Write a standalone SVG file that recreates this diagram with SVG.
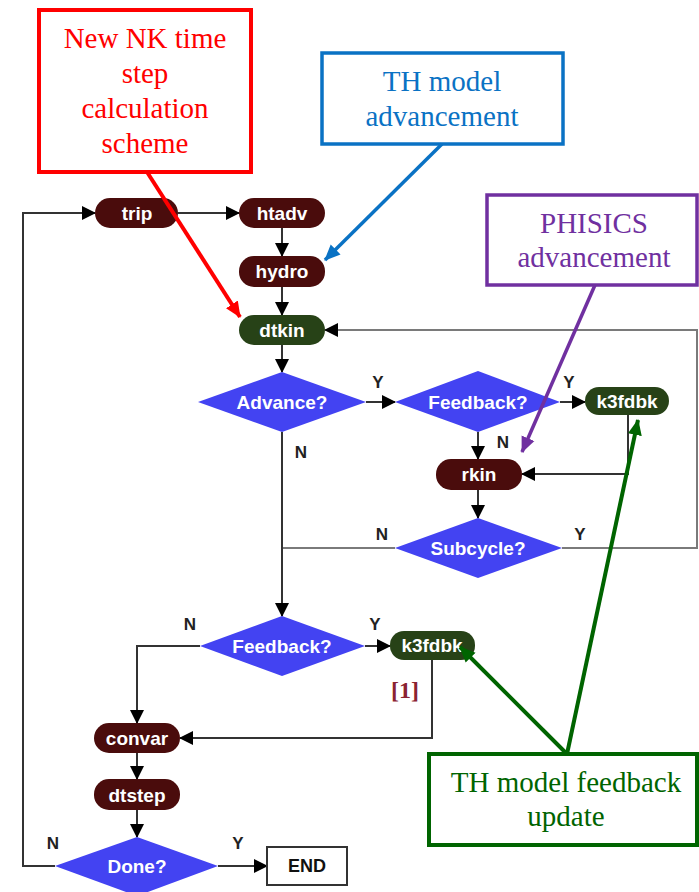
<svg xmlns="http://www.w3.org/2000/svg" width="699" height="892" viewBox="0 0 699 892">
<style>
.pb{fill:#4a0c0c;}
.pg{fill:#274217;}
.dm{fill:#4343f2;}
.nt{font-family:"Liberation Sans",Arial,sans-serif;font-weight:bold;font-size:19px;fill:#fff;text-anchor:middle;dominant-baseline:central;}
.dt{font-family:"Liberation Sans",Arial,sans-serif;font-weight:bold;font-size:19px;fill:#fff;text-anchor:middle;dominant-baseline:central;}
.yn{font-family:"Liberation Sans",Arial,sans-serif;font-weight:bold;font-size:17px;fill:#222;text-anchor:middle;}
.ln{fill:none;stroke:#333;stroke-width:2;}
.lg{fill:none;stroke:#7a7a7a;stroke-width:2;}
.ct{font-family:"Liberation Serif","Times New Roman",serif;font-size:29px;text-anchor:middle;}
</style>
<defs>
<marker id="ah" markerUnits="userSpaceOnUse" markerWidth="14" markerHeight="14" viewBox="0 0 14 14" refX="13" refY="7" orient="auto"><path d="M0,0 L14,7 L0,14 z" fill="#000"/></marker>
<marker id="ar" markerUnits="userSpaceOnUse" markerWidth="16" markerHeight="16" viewBox="0 0 16 16" refX="15" refY="8" orient="auto"><path d="M0,1 L16,8 L0,15 z" fill="#f00"/></marker>
<marker id="ab" markerUnits="userSpaceOnUse" markerWidth="16" markerHeight="16" viewBox="0 0 16 16" refX="15" refY="8" orient="auto"><path d="M0,1 L16,8 L0,15 z" fill="#0a72c4"/></marker>
<marker id="ap" markerUnits="userSpaceOnUse" markerWidth="16" markerHeight="16" viewBox="0 0 16 16" refX="15" refY="8" orient="auto"><path d="M0,1 L16,8 L0,15 z" fill="#7030a0"/></marker>
<marker id="agr" markerUnits="userSpaceOnUse" markerWidth="16" markerHeight="16" viewBox="0 0 16 16" refX="15" refY="8" orient="auto"><path d="M0,1 L16,8 L0,15 z" fill="#006400"/></marker>
</defs>
<rect width="699" height="892" fill="#fff"/>

<g id="connectors">
<path class="ln" d="M55,866 H23 V213 H95" marker-end="url(#ah)"/>
<path class="ln" d="M178,213 H239" marker-end="url(#ah)"/>
<path class="ln" d="M282,228 V256" marker-end="url(#ah)"/>
<path class="ln" d="M282,287 V315" marker-end="url(#ah)"/>
<path class="ln" d="M282,345 V372" marker-end="url(#ah)"/>
<path class="ln" d="M366,402 H395" marker-end="url(#ah)"/>
<path class="ln" d="M560,402 H585" marker-end="url(#ah)"/>
<path class="ln" d="M478,432 V459" marker-end="url(#ah)"/>
<path class="ln" d="M628,415 V474 H522" marker-end="url(#ah)"/>
<path class="ln" d="M478,490 V518" marker-end="url(#ah)"/>
<path class="lg" d="M562,548 H697 V330 H325" marker-end="url(#ah)"/>
<path class="lg" d="M395,548 H282"/>
<path class="ln" d="M282,432 V616" marker-end="url(#ah)"/>
<path class="ln" d="M365,646 H390" marker-end="url(#ah)"/>
<path class="ln" d="M200,646 H137 V723" marker-end="url(#ah)"/>
<path class="ln" d="M432,660 V738 H180" marker-end="url(#ah)"/>
<path class="ln" d="M137,753 V779" marker-end="url(#ah)"/>
<path class="ln" d="M137,810 V837" marker-end="url(#ah)"/>
<path class="ln" d="M218,866 H267" marker-end="url(#ah)"/>
<text class="yn" x="378" y="388">Y</text>
<text class="yn" x="569" y="388">Y</text>
<text class="yn" x="503" y="448">N</text>
<text class="yn" x="301" y="458">N</text>
<text class="yn" x="382" y="540">N</text>
<text class="yn" x="580" y="540">Y</text>
<text class="yn" x="190" y="630">N</text>
<text class="yn" x="375" y="630">Y</text>
<text class="yn" x="53" y="849">N</text>
<text class="yn" x="238" y="849">Y</text>
</g>

<g id="trip"><rect class="pb" x="95" y="198" width="83" height="30" rx="15"/><text class="nt" x="137" y="213">trip</text></g>
<g id="htadv"><rect class="pb" x="239" y="198" width="86" height="30" rx="15"/><text class="nt" x="282" y="213">htadv</text></g>
<g id="hydro"><rect class="pb" x="239" y="256" width="86" height="31" rx="15"/><text class="nt" x="282" y="271">hydro</text></g>
<g id="dtkin"><rect class="pg" x="239" y="315" width="86" height="30" rx="15"/><text class="nt" x="282" y="330">dtkin</text></g>
<g id="advance"><polygon class="dm" points="282,372 366,402 282,432 198,402"/><text class="dt" x="282" y="402">Advance?</text></g>
<g id="feedback1"><polygon class="dm" points="478,371 560,402 478,432 395,402"/><text class="dt" x="478" y="402">Feedback?</text></g>
<g id="k3fdbk1"><rect class="pg" x="585" y="387" width="84" height="28" rx="14"/><text class="nt" x="627" y="401">k3fdbk</text></g>
<g id="rkin"><rect class="pb" x="436" y="459" width="86" height="31" rx="15"/><text class="nt" x="479" y="474">rkin</text></g>
<g id="subcycle"><polygon class="dm" points="478,518 562,548 478,578 395,548"/><text class="dt" x="478" y="548">Subcycle?</text></g>
<g id="feedback2"><polygon class="dm" points="282,616 365,646 282,676 200,646"/><text class="dt" x="282" y="646">Feedback?</text></g>
<g id="k3fdbk2"><rect class="pg" x="390" y="631" width="85" height="29" rx="14"/><text class="nt" x="432" y="645">k3fdbk</text></g>
<g id="ref1"><text x="405" y="698" font-family="Liberation Serif,serif" font-weight="bold" font-size="24" fill="#8b2332" text-anchor="middle">[1]</text></g>
<g id="convar"><rect class="pb" x="94" y="723" width="86" height="30" rx="15"/><text class="nt" x="137" y="738">convar</text></g>
<g id="dtstep"><rect class="pb" x="94" y="779" width="86" height="31" rx="15"/><text class="nt" x="137" y="795">dtstep</text></g>
<g id="done"><polygon class="dm" points="137,837 218,866 137,896 55,866"/><text class="dt" x="137" y="866">Done?</text></g>
<g id="end"><rect x="267" y="847" width="80" height="38" fill="#fff" stroke="#333" stroke-width="2"/><text x="307" y="866" font-family="Liberation Sans,Arial,sans-serif" font-weight="bold" font-size="18" fill="#111" text-anchor="middle" dominant-baseline="central">END</text></g>

<g id="callout-red">
<rect x="39" y="10" width="212" height="162" fill="#fff" stroke="#f00" stroke-width="4"/>
<text class="ct" fill="#f00" x="145" y="48">New NK time</text>
<text class="ct" fill="#f00" x="145" y="83">step</text>
<text class="ct" fill="#f00" x="145" y="118">calculation</text>
<text class="ct" fill="#f00" x="145" y="153">scheme</text>
<line x1="147" y1="172" x2="240" y2="317" stroke="#f00" stroke-width="4" marker-end="url(#ar)"/>
</g>
<g id="callout-blue">
<rect x="322" y="53" width="241" height="91" fill="#fff" stroke="#0a72c4" stroke-width="3.5"/>
<text class="ct" fill="#0a72c4" x="442" y="91">TH model</text>
<text class="ct" fill="#0a72c4" x="442" y="126">advancement</text>
<line x1="442" y1="144" x2="325" y2="260" stroke="#0a72c4" stroke-width="3.5" marker-end="url(#ab)"/>
</g>
<g id="callout-purple">
<rect x="487" y="195" width="210" height="90" fill="#fff" stroke="#7030a0" stroke-width="3.5"/>
<text class="ct" fill="#7030a0" x="594" y="233">PHISICS</text>
<text class="ct" fill="#7030a0" x="594" y="267">advancement</text>
<line x1="595" y1="285" x2="522" y2="452" stroke="#7030a0" stroke-width="3.5" marker-end="url(#ap)"/>
</g>
<g id="callout-green">
<rect x="429" y="754" width="268" height="91" fill="#fff" stroke="#006400" stroke-width="4"/>
<text class="ct" fill="#006400" x="566" y="792">TH model feedback</text>
<text class="ct" fill="#006400" x="566" y="826">update</text>
<line x1="567" y1="754" x2="460" y2="647" stroke="#006400" stroke-width="4" marker-end="url(#agr)"/>
<line x1="567" y1="754" x2="638" y2="420" stroke="#006400" stroke-width="4" marker-end="url(#agr)"/>
</g>
</svg>
